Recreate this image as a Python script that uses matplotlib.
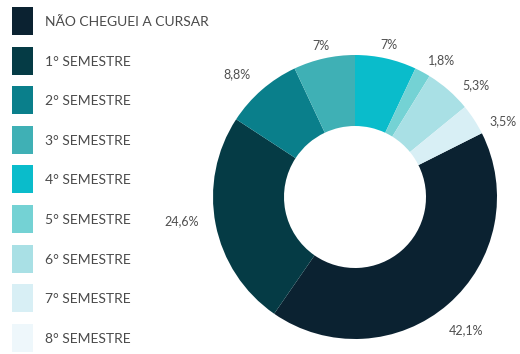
import numpy as np
import matplotlib
matplotlib.use('Agg')
import matplotlib.pyplot as plt
from matplotlib.patches import Rectangle

plt.rcParams['font.family'] = ['Lato', 'DejaVu Sans']

categories = ['NÃO CHEGUEI A CURSAR', '1° SEMESTRE', '2° SEMESTRE', '3° SEMESTRE',
              '4° SEMESTRE', '5° SEMESTRE', '6° SEMESTRE', '7° SEMESTRE', '8° SEMESTRE']
values = [42.1, 24.6, 8.8, 7.0, 7.0, 1.8, 5.3, 3.5, 0.0]
colors = ['#0b2231', '#053b45', '#0a7f8b', '#3fb0b5', '#0abccb',
          '#74d2d4', '#a9e0e5', '#d8eff5', '#eef7fb']

# label placement around the ring (radius factor, angle nudge in degrees)
label_r = [1.22, 1.23, 1.20, 1.09, 1.10, 1.14, 1.16, 1.17, 1.15]
label_da = [-1, -3, 3, 0, 0, -4, -6, -6, 0]

W, H = 520, 354
fig = plt.figure(figsize=(W / 100, H / 100), dpi=100)

# donut
cx, cy, R = 355, 354 - 197, 142
L = 1.3
side = 2 * L * R
ax = fig.add_axes([(cx - side / 2) / W, (cy - side / 2) / H, side / W, side / H])
start = 90 + 360 * sum(values[:4]) / sum(values)
wedges, _ = ax.pie(values, colors=colors, startangle=start, counterclock=False,
                   radius=1, wedgeprops=dict(width=0.5, linewidth=0))
ax.set_xlim(-L, L)
ax.set_ylim(-L, L)
ax.set_aspect('equal')
ax.axis('off')

for w, v, r, da in zip(wedges, values, label_r, label_da):
    if v == 0:
        continue
    mid = np.deg2rad((w.theta1 + w.theta2) / 2 + da)
    txt = f'{v:g}'.replace('.', ',') + '%'
    ax.text(r * np.cos(mid), r * np.sin(mid), txt, ha='center', va='center',
            fontsize=9, color='#505050')

# legend
lax = fig.add_axes([0, 0, 1, 1])
lax.set_xlim(0, W)
lax.set_ylim(H, 0)
lax.axis('off')
for i, (name, c) in enumerate(zip(categories, colors)):
    yc = 21 + i * 39.6
    lax.add_patch(Rectangle((12, yc - 14), 21, 28, facecolor=c, edgecolor='none'))
    lax.text(45, yc + 1, name, ha='left', va='center', fontsize=10,
             color='#4a4a4a')

fig.savefig('out.png', dpi=100, facecolor='white')
